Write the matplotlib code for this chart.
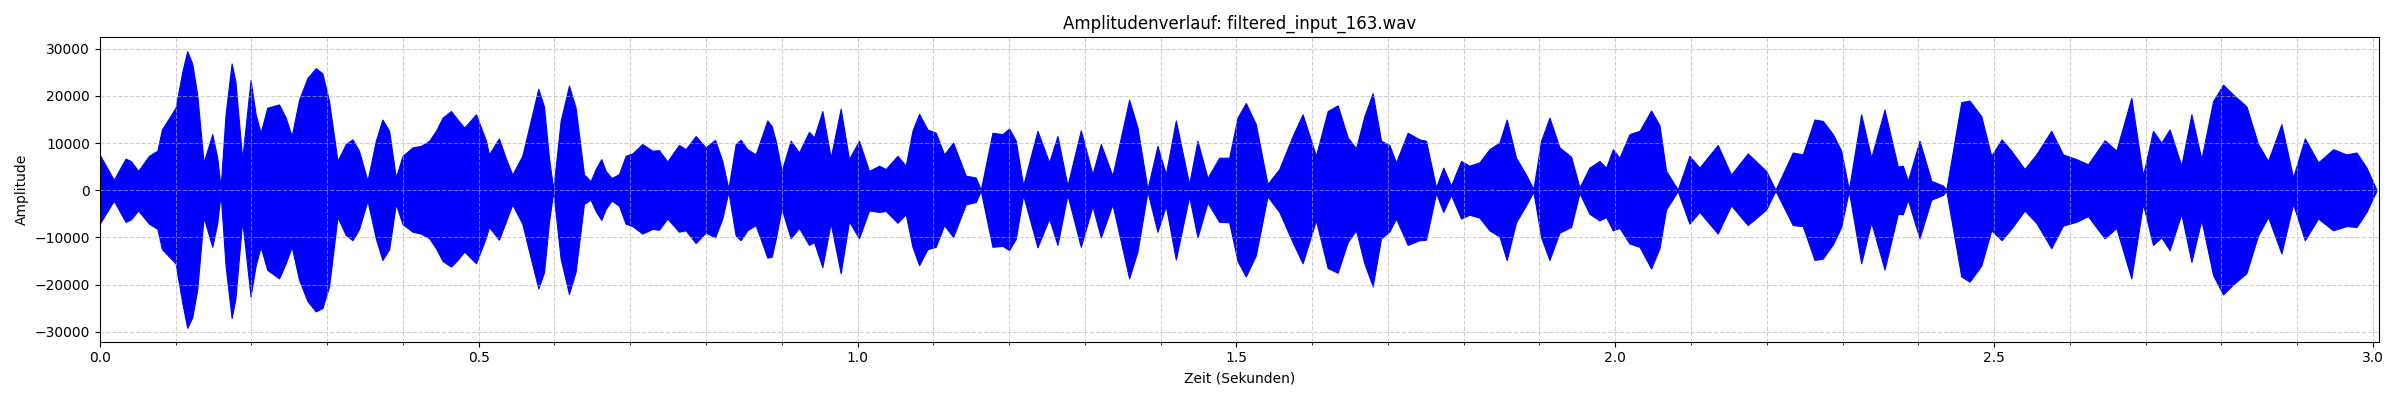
import matplotlib
matplotlib.use("Agg")
import matplotlib.pyplot as plt
from matplotlib.ticker import MultipleLocator

# Envelope of the waveform (time in s, amplitude)
time_s = [
    0.000, 0.0185, 0.034, 0.041, 0.0507, 0.065, 0.076, 0.082, 0.091, 0.100,
    0.109, 0.1154, 0.122, 0.1286, 0.137, 0.1485, 0.155, 0.1595, 0.166, 0.174,
    0.179, 0.188, 0.199, 0.2057, 0.2123, 0.221, 0.2366, 0.2454, 0.2533, 0.263,
    0.274, 0.285, 0.2938, 0.3026, 0.3137, 0.3247, 0.3335, 0.342, 0.3533, 0.3643,
    0.373, 0.3819, 0.3907, 0.3996, 0.4128, 0.4238, 0.4348, 0.4436, 0.4524, 0.4634,
    0.4722, 0.481, 0.4965, 0.5097, 0.5136, 0.5268, 0.5356, 0.5444, 0.5576, 0.5686,
    0.5787, 0.5862, 0.5928, 0.5985, 0.6082, 0.6192, 0.628, 0.639, 0.6478, 0.6544,
    0.6619, 0.6676, 0.6755, 0.6852, 0.694, 0.7028, 0.716, 0.7292, 0.738, 0.749,
    0.7644, 0.7732, 0.7864, 0.7996, 0.812, 0.8216, 0.8296, 0.8392, 0.8458, 0.8546,
    0.8656, 0.881, 0.8868, 0.892, 0.8999, 0.9118, 0.9228, 0.936, 0.9426, 0.9536,
    0.9646, 0.9778, 0.9888, 1.002, 1.0152, 1.0285, 1.0373, 1.0527, 1.0637, 1.0725,
    1.0813, 1.0923, 1.1033, 1.1143, 1.1262, 1.1429, 1.1561, 1.1627, 1.1781, 1.1913,
    1.2001, 1.2089, 1.2186, 1.2375, 1.2529, 1.2639, 1.2771, 1.2947, 1.3101, 1.3211,
    1.3365, 1.3585, 1.3695, 1.3827, 1.3959, 1.4069, 1.4201, 1.4377, 1.4487, 1.4619,
    1.4773, 1.4905, 1.5015, 1.5125, 1.5257, 1.5411, 1.5566, 1.5742, 1.5874, 1.605,
    1.6205, 1.6337, 1.6469, 1.6579, 1.6689, 1.6799, 1.6909, 1.7019, 1.7107, 1.7261,
    1.7415, 1.7503, 1.7635, 1.7731, 1.7833, 1.7965, 1.8075, 1.8207, 1.8339, 1.8471,
    1.8568, 1.8691, 1.8823, 1.892, 1.9022, 1.9132, 1.9264, 1.9418, 1.9528, 1.966,
    1.9792, 1.988, 1.9968, 2.0056, 2.0188, 2.032, 2.0474, 2.0584, 2.0671, 2.0825,
    2.0979, 2.1111, 2.1353, 2.1529, 2.1749, 2.1991, 2.2115, 2.2343, 2.2475, 2.263,
    2.274, 2.2872, 2.2982, 2.3083, 2.3246, 2.3378, 2.3554, 2.373, 2.3796, 2.3862,
    2.4016, 2.4171, 2.4325, 2.4369, 2.4567, 2.4677, 2.4831, 2.4963, 2.510, 2.5226,
    2.5402, 2.5556, 2.5755, 2.5909, 2.6085, 2.6239, 2.6459, 2.6613, 2.6811, 2.6965,
    2.7097, 2.7207, 2.7317, 2.7471, 2.7604, 2.7736, 2.789, 2.8022, 2.8154, 2.833,
    2.8484, 2.8616, 2.8792, 2.8946, 2.9101, 2.9277, 2.9475, 2.9651, 2.9783, 2.9915,
    3.0047,
]

upper_env = [
    7500, 2200, 6700, 6200, 4100, 7300, 8400, 12900, 15200, 17500,
    25200, 29500, 26900, 20300, 5900, 11900, 6900, 600, 16100, 26900,
    23100, 6600, 23400, 16100, 12200, 17500, 18200, 15400, 11500, 19200,
    23800, 25900, 24800, 18900, 6200, 9800, 10800, 8400, 2000, 10500,
    15000, 12600, 2700, 7300, 9100, 9400, 10500, 12600, 15400, 16800,
    15000, 13300, 16100, 10500, 7600, 11000, 6900, 3300, 7300, 14700,
    21500, 17800, 6900, 200, 14700, 22200, 17500, 3400, 1900, 4500,
    6600, 4100, 2600, 3400, 7300, 7800, 9800, 8400, 8500, 6100,
    9600, 8700, 11500, 9100, 10700, 6200, 300, 9800, 10700, 8700,
    7600, 14800, 13600, 10500, 4100, 10500, 8000, 12400, 11200, 16800,
    6900, 17300, 6600, 10500, 4100, 5200, 4500, 7300, 5200, 12600,
    16200, 12900, 12200, 7600, 10100, 3100, 2700, 100, 12200, 11900,
    13100, 10500, 1000, 12600, 5900, 11500, 1000, 12700, 3400, 9800,
    3100, 19200, 13300, 300, 9400, 3400, 14800, 1300, 10500, 2600,
    6900, 6900, 15400, 18500, 14000, 1300, 4500, 11500, 16100, 7300,
    16800, 18000, 11200, 8900, 15700, 20600, 10500, 9600, 5900, 12200,
    10800, 10500, 600, 4800, 1000, 6200, 5200, 5900, 8700, 10100,
    15000, 6900, 3300, 300, 10500, 15400, 9100, 7100, 600, 4800,
    6200, 4800, 8700, 6900, 11900, 12600, 16900, 13800, 4100, 150,
    7300, 4800, 9600, 3300, 7800, 4100, 100, 8000, 7600, 15000,
    14700, 11900, 8400, 100, 16100, 6900, 17100, 5000, 5200, 2000,
    10500, 2000, 1000, 100, 18700, 19000, 15700, 7300, 10800, 8400,
    4500, 7600, 12600, 7600, 6600, 5500, 10600, 8400, 19600, 3100,
    12600, 10100, 12900, 5200, 16100, 6600, 18900, 22400, 20300, 17800,
    9800, 6200, 14000, 2700, 11000, 5900, 8700, 7600, 8000, 4800,
    100,
]

lower_env = [
    -7100, -2200, -6700, -6200, -4300, -7100, -8200, -12500, -14000, -15500,
    -24000, -29200, -27000, -21100, -5700, -12000, -7000, -700, -16000, -27100,
    -23000, -6400, -22500, -16000, -12000, -16900, -18700, -15500, -12000, -19000,
    -23500, -25700, -25000, -20400, -5700, -9500, -10600, -8300, -2200, -10200,
    -14800, -12500, -2900, -7200, -8800, -9200, -10200, -12300, -15000, -16200,
    -14800, -13000, -15500, -10000, -7800, -10500, -6800, -3000, -7100, -14300,
    -20800, -17500, -6800, -200, -14500, -22000, -17300, -2900, -2000, -4400,
    -6300, -4000, -2200, -3300, -7100, -7600, -9200, -8200, -8400, -6000,
    -8800, -8500, -11200, -9000, -10000, -6000, -300, -9600, -10600, -8500,
    -7400, -14300, -14100, -10400, -3900, -10200, -8000, -11600, -11000, -16300,
    -7000, -17600, -6600, -10200, -4300, -4600, -4400, -6900, -5100, -12000,
    -15900, -12500, -12000, -7400, -9900, -3000, -2500, -100, -12000, -11800,
    -12700, -10300, -1000, -12100, -6000, -11600, -1000, -12000, -3400, -10000,
    -3000, -18700, -13000, -300, -8800, -3300, -14700, -1300, -10000, -2600,
    -6700, -6800, -15000, -18300, -13800, -1300, -4600, -11000, -15500, -6400,
    -16500, -17500, -11000, -8500, -15500, -20400, -10200, -8800, -6000, -11600,
    -10600, -10500, -600, -4600, -1000, -6000, -5200, -5800, -8500, -9800,
    -14800, -6800, -3200, -300, -10000, -14800, -9000, -7800, -600, -5000,
    -6400, -5700, -8500, -8000, -11300, -12000, -16600, -12300, -4100, -150,
    -7100, -4600, -9200, -3200, -7400, -4100, -100, -7400, -7600, -14800,
    -14500, -11500, -7800, -100, -15500, -6800, -16800, -5000, -5100, -2000,
    -10200, -2000, -1000, -100, -18300, -19400, -16000, -8500, -10600, -8200,
    -4300, -6900, -12300, -7500, -6700, -5500, -10200, -8000, -18700, -2900,
    -11600, -10000, -12700, -5000, -15200, -6300, -18000, -22100, -20000, -17600,
    -9600, -5700, -13400, -2900, -10600, -6000, -8500, -7600, -7800, -4600,
    -100,
]

title_text = "Amplitudenverlauf: filtered_input_163.wav"
x_label = "Zeit (Sekunden)"
y_label = "Amplitude"

fig, ax = plt.subplots(figsize=(24, 4), dpi=100)
ax.fill_between(time_s, lower_env, upper_env, color="blue", linewidth=0.8,
                edgecolor="blue")
ax.set_xlim(0, 3.008)
ax.xaxis.set_major_locator(MultipleLocator(0.5))
ax.xaxis.set_minor_locator(MultipleLocator(0.1))
ax.yaxis.set_major_locator(MultipleLocator(10000))
ax.grid(True, which="both", linestyle="--", alpha=0.6)
ax.set_title(title_text)
ax.set_xlabel(x_label)
ax.set_ylabel(y_label)
fig.tight_layout()
fig.savefig("out.png", dpi=100)
